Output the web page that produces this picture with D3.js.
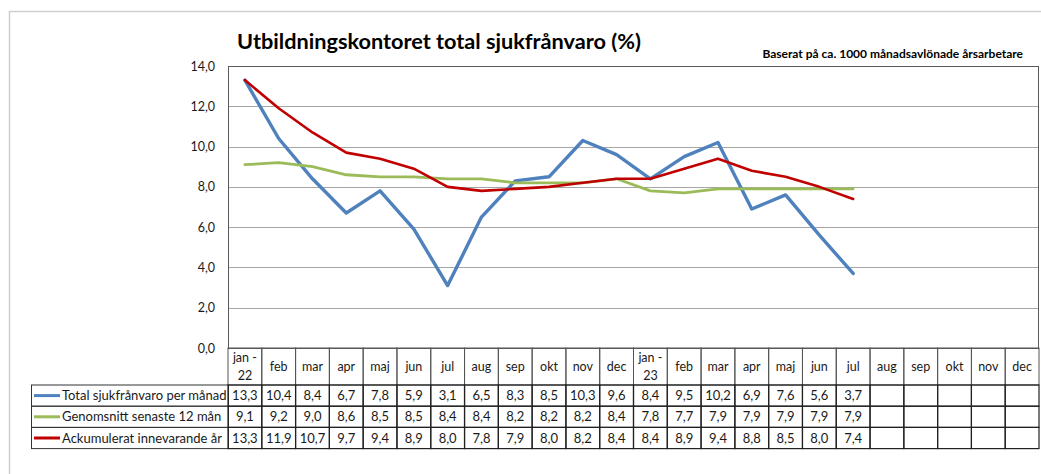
<!DOCTYPE html>
<html>
<head>
<meta charset="utf-8">
<script src="https://cdn.jsdelivr.net/npm/d3@7"></script>
<style>
  body { margin: 0; background: #fff; }
  svg text { font-family: Lato, "Open Sans", sans-serif; fill: #1a1a1a; }
</style>
</head>
<body>
<svg id="chart"></svg>
<script>
// months shown in the table header (two-line labels split by \n)
var months = ["jan -\n22", "feb", "mar", "apr", "maj", "jun", "jul", "aug", "sep", "okt", "nov", "dec",
              "jan -\n23", "feb", "mar", "apr", "maj", "jun", "jul", "aug", "sep", "okt", "nov", "dec"];

var totalPerMonth = [13.3, 10.4, 8.4, 6.7, 7.8, 5.9, 3.1, 6.5, 8.3, 8.5, 10.3, 9.6,
                     8.4, 9.5, 10.2, 6.9, 7.6, 5.6, 3.7];
var avgLast12 = [9.1, 9.2, 9.0, 8.6, 8.5, 8.5, 8.4, 8.4, 8.2, 8.2, 8.2, 8.4,
                 7.8, 7.7, 7.9, 7.9, 7.9, 7.9, 7.9];
var accumYear = [13.3, 11.9, 10.7, 9.7, 9.4, 8.9, 8.0, 7.8, 7.9, 8.0, 8.2, 8.4,
                 8.4, 8.9, 9.4, 8.8, 8.5, 8.0, 7.4];

var seriesNames = ["Total sjukfrånvaro per månad", "Genomsnitt senaste 12 mån", "Ackumulerat innevarande år"];
var yTicks = [0, 2, 4, 6, 8, 10, 12, 14];

var series = [
  { name: seriesNames[0], values: totalPerMonth, color: "#4f81bd", width: 3.4 },
  { name: seriesNames[1], values: avgLast12, color: "#9bbb59", width: 2.8 },
  { name: seriesNames[2], values: accumYear, color: "#c00000", width: 2.6 }
];

var W = 1041, H = 474;
var plot = { left: 228, right: 1039, top: 66, bottom: 348 };
var headerBottom = 385, rowH = 21.2, legendLeft = 31;

var svg = d3.select("#chart").attr("width", W).attr("height", H);

var loc = d3.formatLocale({ decimal: ",", thousands: " ", grouping: [3], currency: ["", ""] });
var fmt = loc.format(".1f");

var x = d3.scaleBand()
  .domain(d3.range(months.length))
  .range([plot.left, plot.right])
  .padding(0);

var y = d3.scaleLinear()
  .domain([0, 14])
  .range([plot.bottom, plot.top]);

// outer frame
svg.append("rect")
  .attr("x", 9.5).attr("y", 11.5)
  .attr("width", W + 50).attr("height", H + 50)
  .attr("fill", "none")
  .attr("stroke", "#cfcfcf")
  .attr("stroke-width", 1.5);

// title
svg.append("text")
  .attr("x", 237).attr("y", 49)
  .style("font-size", "21.7px")
  .style("font-weight", "bold")
  .style("fill", "#000")
  .text("Utbildningskontoret total sjukfrånvaro (%)");

svg.append("text")
  .attr("x", 1023).attr("y", 58)
  .attr("text-anchor", "end")
  .style("font-size", "12px")
  .style("font-weight", "bold")
  .style("fill", "#000")
  .text("Baserat på ca. 1000 månadsavlönade årsarbetare");

// gridlines
svg.append("g")
  .selectAll("line")
  .data(yTicks.filter(function (d) { return d > 0 && d < 14; }))
  .enter()
  .append("line")
  .attr("x1", plot.left).attr("x2", plot.right)
  .attr("y1", function (d) { return Math.round(y(d)) + 0.5; })
  .attr("y2", function (d) { return Math.round(y(d)) + 0.5; })
  .attr("stroke", "#a6a6a6")
  .attr("stroke-width", 1.2);

// y axis labels
var yAxis = d3.axisLeft(y)
  .tickValues(yTicks)
  .tickSize(0)
  .tickPadding(0)
  .tickFormat(fmt);

var gy = svg.append("g")
  .attr("transform", "translate(215,0)")
  .call(yAxis);
gy.select(".domain").remove();
gy.selectAll("text")
  .style("font-size", "12.5px")
  .style("font-family", "Lato, sans-serif")
  .attr("fill", "#222");

// plot border
svg.append("rect")
  .attr("x", plot.left + 0.5).attr("y", plot.top + 0.5)
  .attr("width", plot.right - plot.left - 1)
  .attr("height", plot.bottom - plot.top)
  .attr("fill", "none")
  .attr("stroke", "#5a5a5a")
  .attr("stroke-width", 1);

// lines
var line = d3.line()
  .x(function (d, i) { return x(i) + x.bandwidth() / 2; })
  .y(function (d) { return y(d); });

svg.append("g")
  .selectAll("path")
  .data(series)
  .enter()
  .append("path")
  .attr("d", function (d) { return line(d.values); })
  .attr("fill", "none")
  .attr("stroke", function (d) { return d.color; })
  .attr("stroke-width", function (d) { return d.width; })
  .attr("stroke-linejoin", "round")
  .attr("stroke-linecap", "round");

// table: header row
var table = svg.append("g");

var head = table.selectAll(".head")
  .data(months)
  .enter()
  .append("g")
  .attr("class", "head");

head.append("rect")
  .attr("x", function (d, i) { return x(i); })
  .attr("y", plot.bottom)
  .attr("width", x.bandwidth())
  .attr("height", headerBottom - plot.bottom)
  .attr("fill", "none")
  .attr("stroke", "#555")
  .attr("stroke-width", 1);

head.each(function (d, i) {
  var parts = d.split("\n");
  var cx = x(i) + x.bandwidth() / 2;
  var g = d3.select(this);
  if (parts.length === 1) {
    g.append("text").attr("x", cx).attr("y", 371)
      .attr("text-anchor", "middle").style("font-size", "12.5px").text(parts[0]);
  } else {
    g.append("text").attr("x", cx).attr("y", 362)
      .attr("text-anchor", "middle").style("font-size", "12.5px").text(parts[0]);
    g.append("text").attr("x", cx).attr("y", 380)
      .attr("text-anchor", "middle").style("font-size", "12.5px").text(parts[1]);
  }
});

// table: data rows
series.forEach(function (s, r) {
  var top = headerBottom + r * rowH;

  table.append("rect")
    .attr("x", legendLeft + 0.5).attr("y", top)
    .attr("width", plot.left - legendLeft)
    .attr("height", rowH)
    .attr("fill", "none")
    .attr("stroke", "#333");

  table.append("line")
    .attr("x1", legendLeft + 3).attr("x2", legendLeft + 29)
    .attr("y1", top + rowH / 2).attr("y2", top + rowH / 2)
    .attr("stroke", s.color)
    .attr("stroke-width", 3);

  table.append("text")
    .attr("x", legendLeft + 31).attr("y", top + rowH / 2 + 4.5)
    .style("font-size", "13px")
    .text(s.name);

  table.selectAll(".cell" + r)
    .data(months)
    .enter()
    .append("rect")
    .attr("x", function (d, i) { return x(i); })
    .attr("y", top)
    .attr("width", x.bandwidth())
    .attr("height", rowH)
    .attr("fill", "none")
    .attr("stroke", "#222")
    .attr("stroke-width", 1.2);

  table.selectAll(".val" + r)
    .data(s.values)
    .enter()
    .append("text")
    .attr("x", function (d, i) { return x(i) + x.bandwidth() / 2; })
    .attr("y", top + rowH / 2 + 4.5)
    .attr("text-anchor", "middle")
    .style("font-size", "13px")
    .text(function (d) { return fmt(d); });
});
</script>
</body>
</html>
